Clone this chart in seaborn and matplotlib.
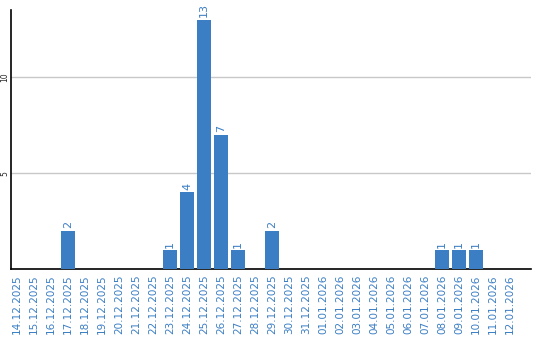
import matplotlib
matplotlib.use("Agg")
import matplotlib.pyplot as plt
import seaborn as sns
import pandas as pd

dates = ["14.12.2025", "15.12.2025", "16.12.2025", "17.12.2025", "18.12.2025",
         "19.12.2025", "20.12.2025", "21.12.2025", "22.12.2025", "23.12.2025",
         "24.12.2025", "25.12.2025", "26.12.2025", "27.12.2025", "28.12.2025",
         "29.12.2025", "30.12.2025", "31.12.2025", "01.01.2026", "02.01.2026",
         "03.01.2026", "04.01.2026", "05.01.2026", "06.01.2026", "07.01.2026",
         "08.01.2026", "09.01.2026", "10.01.2026", "11.01.2026", "12.01.2026"]
counts = [0, 0, 0, 2, 0, 0, 0, 0, 0, 1, 4, 13, 7, 1, 0, 2, 0, 0, 0, 0,
          0, 0, 0, 0, 0, 1, 1, 1, 0, 0]
yticks = [5, 10]

blue = "#3b7ec4"
sns.set_style("white")
plt.rcParams['font.family'] = ['DejaVu Sans']

df = pd.DataFrame({"date": dates, "count": counts})
fig = plt.figure(figsize=(5.4, 3.4), dpi=100)
ax = fig.add_axes([11/540, 1-269/340, 520/540, 259/340])
sns.barplot(data=df, x="date", y="count", color=blue, saturation=1, width=0.82,
            linewidth=0, ax=ax, zorder=3)
ax.set_xlim(-6/17, 514/17)
ax.set_ylim(0, 13.5)
ax.set_yticks(yticks)
ax.set_yticklabels([str(v) for v in yticks], rotation=90, fontsize=5.5, va="center")
ax.yaxis.grid(True, color="#c8c8c8", linewidth=1, zorder=0)
ax.set_axisbelow(True)
ax.tick_params(axis="x", length=0, pad=4, labelsize=7.5, labelcolor=blue)
ax.tick_params(axis="y", length=0, pad=1.5)
plt.setp(ax.get_xticklabels(), rotation=90, va="top", ha="center")
ax.set_xlabel("")
ax.set_ylabel("")
for s in ["top", "right"]:
    ax.spines[s].set_visible(False)
for s in ["left", "bottom"]:
    ax.spines[s].set_color("black")
    ax.spines[s].set_linewidth(1.2)
for i, c in enumerate(counts):
    if c > 0:
        ax.text(i, c + 0.12, str(c), rotation=90, ha="center", va="bottom",
                color=blue, fontsize=8)
fig.savefig("out.png", dpi=100)
